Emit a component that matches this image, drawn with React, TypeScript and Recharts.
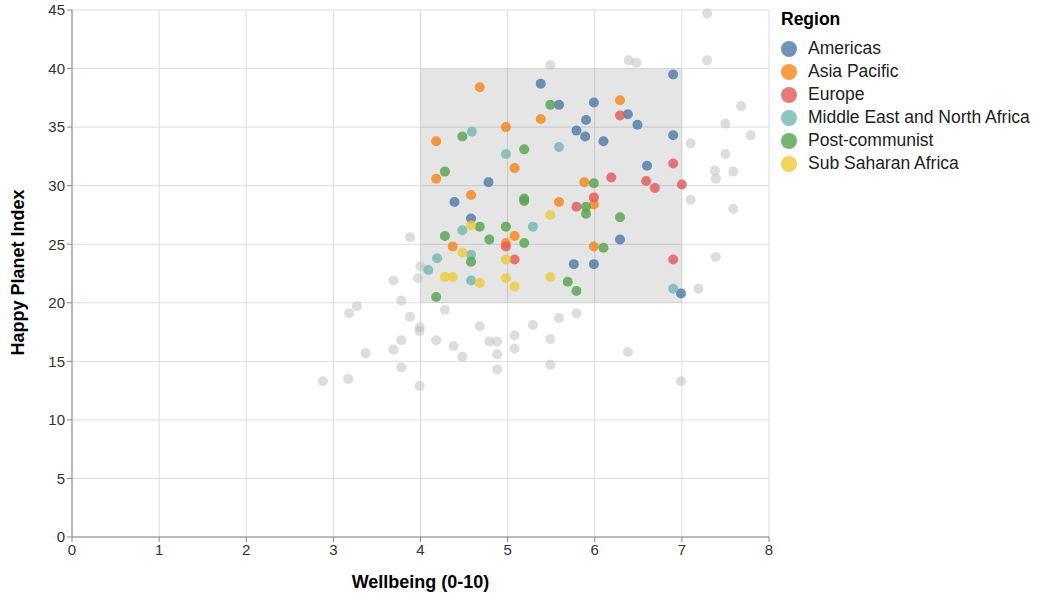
import { CartesianGrid, ReferenceArea, Scatter, ScatterChart, XAxis, YAxis } from "recharts";

type Pt = { x: number; y: number };
const p = (arr: number[][]): Pt[] => arr.map(([x, y]) => ({ x, y }));

const americas = p([
  [5.38, 38.7], [5.59, 36.9], [5.99, 37.1], [5.9, 35.6], [5.79, 34.7], [5.89, 34.2],
  [6.38, 36.1], [6.49, 35.2], [6.1, 33.8], [6.9, 39.5], [6.9, 34.3], [6.6, 31.7],
  [4.78, 30.3], [4.39, 28.6], [4.58, 27.2], [6.29, 25.4], [5.76, 23.3], [5.99, 23.3], [6.99, 20.8],
]);
const asiaPacific = p([
  [4.68, 38.4], [6.29, 37.3], [5.38, 35.7], [4.98, 35.0], [4.18, 33.8], [5.08, 31.5],
  [4.18, 30.6], [5.88, 30.3], [4.58, 29.2], [5.59, 28.6], [5.99, 28.4], [5.08, 25.7],
  [4.37, 24.8], [5.99, 24.8], [4.98, 25.1],
]);
const europe = p([
  [6.29, 36.0], [6.19, 30.7], [6.59, 30.4], [6.69, 29.8], [7.0, 30.1], [6.9, 31.9],
  [5.79, 28.2], [5.99, 29.0], [4.98, 24.8], [5.08, 23.7], [6.9, 23.7],
]);
const middleEast = p([
  [4.59, 34.6], [4.98, 32.7], [5.59, 33.3], [5.29, 26.5], [4.48, 26.2], [4.58, 24.1],
  [4.19, 23.8], [4.09, 22.8], [4.58, 21.9], [6.9, 21.2],
]);
const postCommunist = p([
  [5.49, 36.9], [4.48, 34.2], [5.19, 33.1], [4.28, 31.2], [5.99, 30.2], [5.19, 28.9],
  [5.19, 28.7], [5.9, 28.2], [5.9, 27.6], [6.29, 27.3], [4.68, 26.5], [4.98, 26.5],
  [4.28, 25.7], [4.79, 25.4], [5.19, 25.1], [6.1, 24.7], [4.58, 23.5], [5.69, 21.8],
  [5.79, 21.0], [4.18, 20.5],
]);
const subSaharan = p([
  [5.49, 27.5], [4.58, 26.6], [4.48, 24.3], [4.98, 23.7], [4.28, 22.2], [4.37, 22.2],
  [4.98, 22.1], [5.49, 22.2], [4.68, 21.7], [5.08, 21.4],
]);
const unselected = p([
  [6.39, 40.7], [6.48, 40.5], [7.29, 44.7], [7.29, 40.7], [5.49, 40.3], [7.68, 36.8],
  [7.79, 34.3], [7.5, 35.3], [7.1, 33.6], [7.5, 32.7], [7.38, 31.3], [7.59, 31.2],
  [7.39, 30.6], [7.1, 28.8], [7.59, 28.0], [7.39, 23.9], [7.19, 21.2], [3.88, 25.6],
  [3.69, 21.9], [4.0, 23.1], [3.97, 22.1], [4.28, 19.4], [3.78, 20.2], [3.27, 19.7],
  [3.18, 19.1], [3.88, 18.8], [3.99, 17.9], [3.99, 17.6], [4.68, 18.0], [5.29, 18.1],
  [5.59, 18.7], [5.79, 19.1], [3.78, 16.8], [3.69, 16.0], [3.37, 15.7], [4.18, 16.8],
  [4.79, 16.7], [4.88, 16.7], [4.38, 16.3], [4.48, 15.4], [4.88, 15.6], [5.08, 17.2],
  [5.08, 16.1], [5.49, 16.9], [4.88, 14.3], [5.49, 14.7], [3.78, 14.5], [6.38, 15.8],
  [3.17, 13.5], [2.88, 13.3], [3.99, 12.9], [6.99, 13.3],
]);

const xTicks = [0, 1, 2, 3, 4, 5, 6, 7, 8];
const yTicks = [0, 5, 10, 15, 20, 25, 30, 35, 40, 45];

const regions = [
  { name: "Americas", color: "#4c78a8", data: americas },
  { name: "Asia Pacific", color: "#f58518", data: asiaPacific },
  { name: "Europe", color: "#e45756", data: europe },
  { name: "Middle East and North Africa", color: "#72b7b2", data: middleEast },
  { name: "Post-communist", color: "#54a24b", data: postCommunist },
  { name: "Sub Saharan Africa", color: "#eeca3b", data: subSaharan },
];

const FONT = "'Liberation Sans', Arial, sans-serif";
const tick = { fill: "#333", fontSize: 15, fontFamily: FONT };

const dot = (color: string, opacity: number) => (props: any) => (
  <circle cx={props.cx} cy={props.cy} r={5} fill={color} fillOpacity={opacity} />
);

export default function App() {
  return (
    <div style={{ position: "absolute", left: 0, top: 0, width: 1038, height: 597, background: "#fff", fontFamily: FONT }}>
      <ScatterChart width={781} height={597} margin={{ top: 10, right: 12, bottom: 0, left: 0 }}>
        <CartesianGrid stroke="#ddd" />
        <XAxis
          type="number" dataKey="x" domain={[0, 8]} ticks={xTicks} height={60}
          tick={tick} stroke="#888" tickSize={5}
          label={{ value: "Wellbeing (0-10)", position: "insideBottom", offset: 9, fill: "#000", fontSize: 18, fontWeight: "bold", fontFamily: FONT }}
        />
        <YAxis
          type="number" dataKey="y" domain={[0, 45]} ticks={yTicks} width={72}
          tick={tick} stroke="#888" tickSize={5}
          label={{ value: "Happy Planet Index", angle: -90, position: "insideLeft", offset: 18, dy: 82, fill: "#000", fontSize: 18, fontWeight: "bold", fontFamily: FONT }}
        />
        <ReferenceArea x1={4} x2={7} y1={20} y2={40} fill="#333" fillOpacity={0.13} stroke="none" />
        <Scatter data={unselected} isAnimationActive={false} shape={dot("#bbb", 0.5)} />
        {regions.map((r) => (
          <Scatter key={r.name} data={r.data} isAnimationActive={false} shape={dot(r.color, 0.8)} />
        ))}
      </ScatterChart>
      <div style={{ position: "absolute", left: 781, top: 9, color: "#000" }}>
        <div style={{ fontWeight: "bold", fontSize: 17.5, marginBottom: 7 }}>Region</div>
        {regions.map((r) => (
          <div key={r.name} style={{ display: "flex", alignItems: "center", height: 23, fontSize: 17.5, color: "#222" }}>
            <span style={{ width: 16, height: 16, borderRadius: 8, background: r.color, opacity: 0.8, marginRight: 11 }} />
            {r.name}
          </div>
        ))}
      </div>
    </div>
  );
}
